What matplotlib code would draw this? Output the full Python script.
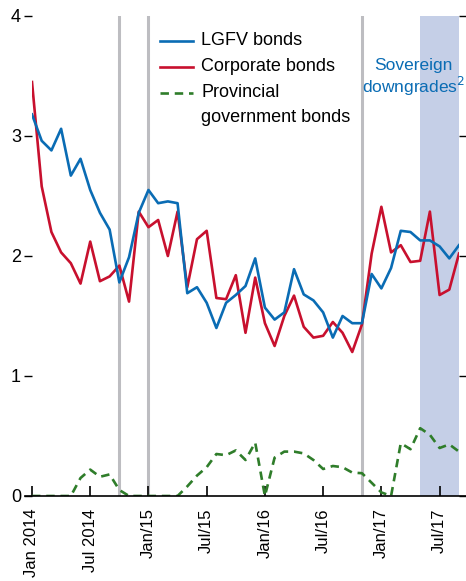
import matplotlib
matplotlib.use('Agg')
import matplotlib.pyplot as plt
from matplotlib import font_manager

# Monthly spreads, Jan 2014 .. Sep 2017 (percentage points)
months = list(range(45))
lgfv = [3.18, 2.96, 2.88, 3.06, 2.67, 2.81, 2.55, 2.36, 2.22, 1.78,
        1.99, 2.36, 2.55, 2.44, 2.455, 2.44, 1.69, 1.74, 1.61, 1.40,
        1.61, 1.675, 1.75, 1.98, 1.57, 1.47, 1.53, 1.89, 1.68, 1.63,
        1.53, 1.32, 1.50, 1.44, 1.44, 1.85, 1.73, 1.90, 2.21, 2.20,
        2.13, 2.13, 2.08, 1.98, 2.09]
corporate = [3.45, 2.58, 2.20, 2.03, 1.94, 1.77, 2.12, 1.79, 1.83, 1.92,
             1.62, 2.37, 2.24, 2.30, 2.00, 2.37, 1.74, 2.14, 2.21, 1.65,
             1.64, 1.84, 1.36, 1.82, 1.44, 1.25, 1.50, 1.67, 1.41, 1.32,
             1.335, 1.45, 1.36, 1.20, 1.43, 2.02, 2.41, 2.03, 2.09, 1.95,
             1.96, 2.37, 1.675, 1.72, 2.02]
provincial = [0.0, 0.0, 0.0, 0.0, 0.0, 0.15, 0.22, 0.16, 0.18, 0.05,
              0.0, 0.0, 0.0, 0.0, 0.0, 0.0, 0.08, 0.17, 0.24, 0.35,
              0.34, 0.38, 0.30, 0.445, 0.0, 0.32, 0.37, 0.37, 0.355, 0.30,
              0.225, 0.25, 0.24, 0.195, 0.19, 0.11, 0.03, 0.0, 0.44, 0.39,
              0.565, 0.51, 0.40, 0.43, 0.37]

tick_pos = [0, 6, 12, 18, 24, 30, 36, 42]
tick_labels = ['Jan 2014', 'Jul 2014', 'Jan/15', 'Jul/15',
               'Jan/16', 'Jul/16', 'Jan/17', 'Jul/17']
events = [9, 12, 34]
downgrade_span = (40, 44)

narrow = 'Liberation Sans Narrow'
names = {f.name for f in font_manager.fontManager.ttflist}
plt.rcParams['font.family'] = [narrow if narrow in names else 'Liberation Sans', 'DejaVu Sans']

BLUE = '#0a6cb4'
RED = '#c8102e'
GREEN = '#2f7d2a'
GREY = '#bdbdc1'
SHADE = '#c5cfe7'
DASH = (0, (3.2, 2.2))

fig = plt.figure(figsize=(4.66, 5.81), dpi=100)
ax = fig.add_axes([32 / 466, 1 - 496 / 581, 427 / 466, 480 / 581])

ax.axvspan(*downgrade_span, color=SHADE, lw=0, zorder=0)
for e in events:
    ax.axvline(e, color=GREY, lw=2.2, zorder=1)

ax.plot(months, provincial, color=GREEN, lw=1.9, ls=DASH, zorder=3)
ax.plot(months, corporate, color=RED, lw=1.9, zorder=4)
ax.plot(months, lgfv, color=BLUE, lw=1.9, zorder=5)

ax.set_xlim(0, 44)
ax.set_ylim(0, 4)
for s in ax.spines.values():
    s.set_visible(False)
ax.axhline(0, xmin=-7 / 427, xmax=1 + 7 / 427, color='black', lw=1.2,
           clip_on=False, zorder=6)

ax.set_yticks([0, 1, 2, 3, 4])
ax.tick_params(axis='y', which='both', left=True, right=True, direction='out',
               length=6, width=1, labelsize=13, pad=2, colors='black')
ax.set_xticks(tick_pos)
ax.set_xticklabels(tick_labels, rotation=90)
ax.tick_params(axis='x', direction='in', length=7, width=1.2, labelsize=12, pad=9)

# legend drawn by hand so the dashed key sits on the first text line
leg_x0, leg_x1, tx = 0.30, 0.377, 0.396
rows = [(0.948, BLUE, '-', 'LGFV bonds'),
        (0.894, RED, '-', 'Corporate bonds'),
        (0.840, GREEN, DASH, 'Provincial')]
for y, c, ls, label in rows:
    ax.plot([leg_x0, leg_x1], [y, y], transform=ax.transAxes, color=c, lw=1.9,
            ls=ls, clip_on=False)
    ax.text(tx, y, label, transform=ax.transAxes, fontsize=13,
            va='center', ha='left')
ax.text(tx, 0.7875, 'government bonds', transform=ax.transAxes, fontsize=13,
        va='center', ha='left')

ax.text(39.35, 3.48, 'Sovereign\ndowngrades$^2$', color=BLUE, fontsize=12.5,
        ha='center', va='center', linespacing=1.1)

fig.savefig('out.png', dpi=100)
